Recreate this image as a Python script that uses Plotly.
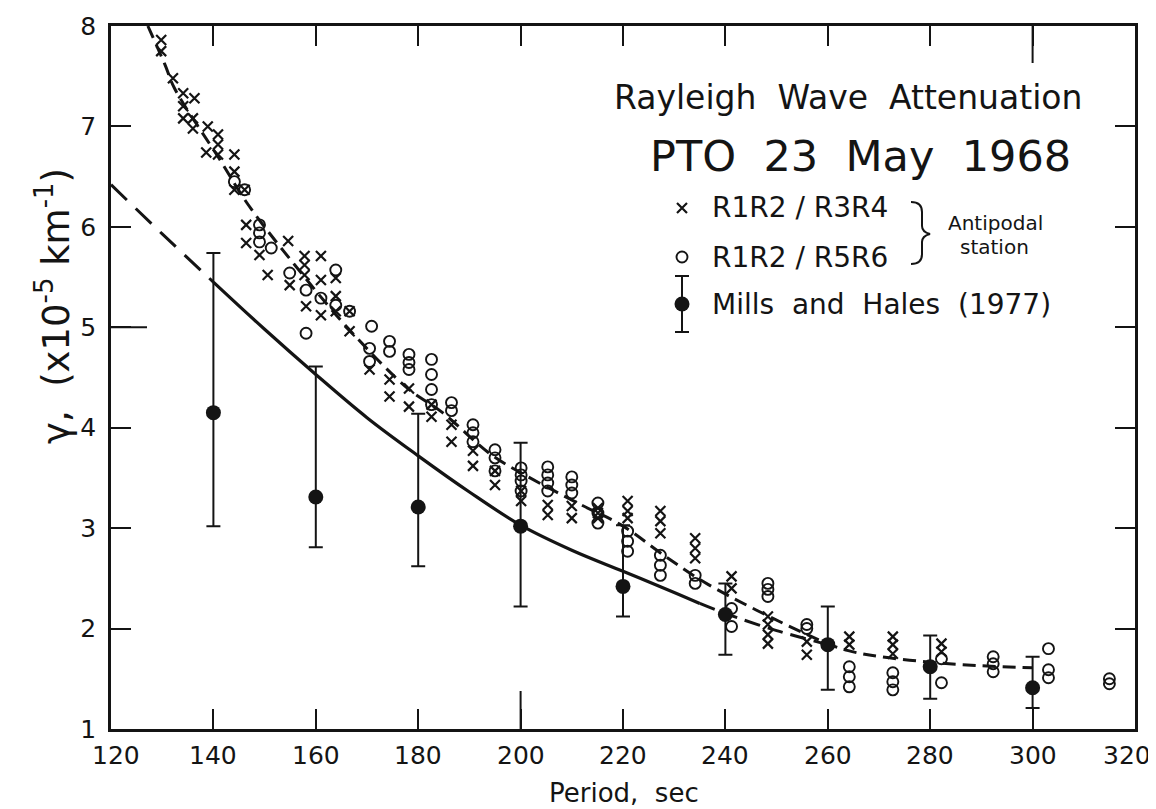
import plotly.graph_objects as go

# ---------------- data ----------------
# R1R2/R3R4 (x symbols)
x_period = [129.8, 129.8, 132.4, 132.1, 134.1, 136.3, 134.1, 134.1, 136.0, 136.0, 138.9, 140.9, 140.9,
            140.9, 138.6, 144.1, 144.1, 144.1, 146.1, 146.4, 146.4, 149.0, 150.6, 154.6, 154.9, 157.8,
            157.8, 157.8, 158.1, 161.0, 161.0, 161.0, 163.9, 163.9, 163.9, 166.6, 166.6, 170.5, 174.4,
            174.4, 178.2, 178.2, 182.6, 182.6, 186.5, 186.5, 190.7, 190.7, 195.0, 195.0, 200.1, 200.1,
            205.3, 205.3, 210.0, 210.0, 215.1, 215.1, 215.1, 220.9, 220.9, 220.9, 227.3, 227.3, 227.3,
            234.1, 234.1, 234.1, 241.2, 241.2, 248.3, 248.3, 248.3, 248.3, 255.9, 255.9, 264.2, 264.2,
            272.7, 272.7, 272.7, 282.2, 282.2]
x_gamma = [7.86, 7.75, 8.02, 7.48, 7.33, 7.28, 7.20, 7.08, 7.08, 6.98, 7.00, 6.92, 6.82,
           6.72, 6.74, 6.72, 6.55, 6.37, 6.37, 6.02, 5.84, 5.72, 5.52, 5.86, 5.42, 5.71,
           5.62, 5.52, 5.21, 5.71, 5.47, 5.12, 5.49, 5.31, 5.16, 5.16, 4.96, 4.58, 4.48,
           4.31, 4.39, 4.21, 4.23, 4.11, 4.03, 3.86, 3.77, 3.62, 3.57, 3.43, 3.37, 3.27,
           3.23, 3.13, 3.22, 3.10, 3.20, 3.15, 3.10, 3.27, 3.17, 3.10, 3.17, 3.07, 2.95,
           2.90, 2.80, 2.70, 2.52, 2.40, 2.12, 2.04, 1.94, 1.85, 1.87, 1.74, 1.92, 1.84,
           1.92, 1.84, 1.75, 1.85, 1.77]

# R1R2/R5R6 (open circles)
o_period = [144.1, 146.1, 149.0, 149.0, 149.0, 151.3, 154.9, 158.1, 158.1, 161.0, 163.9, 163.9, 166.6,
            170.9, 170.5, 170.5, 174.4, 174.4, 178.2, 178.2, 178.2, 182.6, 182.6, 182.6, 182.6, 186.5,
            186.5, 190.7, 190.7, 190.7, 195.0, 195.0, 195.0, 200.1, 200.1, 200.1, 200.1, 205.3, 205.3,
            205.3, 205.3, 210.0, 210.0, 210.0, 215.1, 215.1, 215.1, 220.9, 220.9, 220.9, 227.3, 227.3,
            227.3, 234.1, 234.1, 241.2, 241.2, 248.3, 248.3, 248.3, 255.9, 255.9, 264.2, 264.2, 264.2,
            272.7, 272.7, 272.7, 282.2, 282.2, 292.3, 292.3, 292.3, 303.1, 303.1, 303.1, 315.0, 315.0]
o_gamma = [6.45, 6.37, 6.02, 5.94, 5.85, 5.79, 5.54, 5.37, 4.94, 5.29, 5.57, 5.22, 5.16,
           5.01, 4.79, 4.66, 4.86, 4.76, 4.73, 4.65, 4.58, 4.68, 4.53, 4.38, 4.23, 4.25,
           4.17, 4.03, 3.95, 3.86, 3.78, 3.70, 3.57, 3.60, 3.53, 3.47, 3.37, 3.61, 3.53,
           3.45, 3.37, 3.51, 3.43, 3.35, 3.25, 3.15, 3.05, 2.97, 2.87, 2.77, 2.73, 2.63,
           2.53, 2.53, 2.45, 2.20, 2.02, 2.45, 2.39, 2.32, 2.04, 2.00, 1.62, 1.52, 1.42,
           1.56, 1.47, 1.39, 1.70, 1.46, 1.72, 1.65, 1.57, 1.80, 1.59, 1.51, 1.50, 1.45]

# Mills and Hales (1977) with error bars
mh_period = [140, 160, 180, 200, 220, 240, 260, 280, 300]
mh_gamma = [4.15, 3.31, 3.21, 3.02, 2.42, 2.14, 1.84, 1.62, 1.41]
mh_upper = [5.74, 4.61, 4.14, 3.85, 3.03, 2.45, 2.22, 1.93, 1.72]
mh_lower = [3.02, 2.81, 2.62, 2.22, 2.12, 1.74, 1.39, 1.30, 1.21]

# dashed fit through the antipodal data
fit_period = [127.2, 130.5, 132.4, 141.0, 146.8, 155.9, 166.3, 178.0, 184.5, 194.3, 200.8, 211.9,
              219.7, 228.8, 236.6, 256.0, 264.0, 281.0, 300.0]
fit_gamma = [8.00, 7.62, 7.38, 6.69, 6.22, 5.62, 4.99, 4.39, 4.16, 3.73, 3.53, 3.23,
             3.03, 2.70, 2.44, 1.94, 1.78, 1.66, 1.61]

# Mills and Hales curve (dashed extrapolations at both ends)
mhc_lo_period = [120, 130, 140]
mhc_lo_gamma = [6.42, 5.93, 5.45]
mhc_mid_period = [140, 150, 160, 170, 180, 190, 200, 210, 220, 230, 235]
mhc_mid_gamma = [5.45, 4.98, 4.53, 4.10, 3.72, 3.36, 3.03, 2.78, 2.57, 2.36, 2.25]
mhc_hi_period = [235, 240, 250, 260]
mhc_hi_gamma = [2.25, 2.15, 1.98, 1.84]

x_ticks = [120, 140, 160, 180, 200, 220, 240, 260, 280, 300, 320]
y_ticks = [1, 2, 3, 4, 5, 6, 7, 8]

# ---------------- figure ----------------
INK = "#141414"
FONT = "DejaVu Sans"
W, H = 1156, 809
L, R, T, B = 103, 29, 18, 88
PW, PH = W - L - R, H - T - B
X0, X1, Y0, Y1 = 120, 320, 1, 8


def dx(xpix):
    return X0 + (xpix - L) / PW * (X1 - X0)


def dy(ypix):
    return Y0 + (H - B - ypix) / PH * (Y1 - Y0)


def px(xpix):
    return (xpix - L) / PW


def py(ypix):
    return (H - B - ypix) / PH


fig = go.Figure()

fig.add_trace(go.Scatter(x=mhc_lo_period, y=mhc_lo_gamma, mode="lines", line_shape="spline",
                         line=dict(color=INK, width=3, dash="22px,12px"), hoverinfo="skip"))
fig.add_trace(go.Scatter(x=mhc_mid_period, y=mhc_mid_gamma, mode="lines", line_shape="spline",
                         line=dict(color=INK, width=3.2), hoverinfo="skip"))
fig.add_trace(go.Scatter(x=mhc_hi_period, y=mhc_hi_gamma, mode="lines", line_shape="spline",
                         line=dict(color=INK, width=3, dash="16px,8px"), hoverinfo="skip"))
fig.add_trace(go.Scatter(x=fit_period, y=fit_gamma, mode="lines", line_shape="spline",
                         line=dict(color=INK, width=3, dash="13px,7px"), hoverinfo="skip"))

XSYM = dict(symbol="x-thin", size=10, line=dict(color=INK, width=2.2))
OSYM = dict(symbol="circle-open", size=11, color=INK, line=dict(color=INK, width=1.9))

fig.add_trace(go.Scatter(x=x_period, y=x_gamma, mode="markers", cliponaxis=False, marker=XSYM))
fig.add_trace(go.Scatter(x=o_period, y=o_gamma, mode="markers", cliponaxis=False, marker=OSYM))

fig.add_trace(go.Scatter(
    x=mh_period, y=mh_gamma, mode="markers",
    marker=dict(symbol="circle", size=15, color=INK),
    error_y=dict(type="data", symmetric=False,
                 array=[u - g for u, g in zip(mh_upper, mh_gamma)],
                 arrayminus=[g - l for g, l in zip(mh_gamma, mh_lower)],
                 color=INK, thickness=2, width=7)))

# legend glyphs
fig.add_trace(go.Scatter(x=[dx(674)], y=[dy(200)], mode="markers", marker=XSYM))
fig.add_trace(go.Scatter(x=[dx(674)], y=[dy(249)], mode="markers", marker=OSYM))
fig.add_trace(go.Scatter(x=[dx(674)], y=[dy(296)], mode="markers",
                         marker=dict(symbol="circle", size=15, color=INK),
                         error_y=dict(type="data", array=[dy(268) - dy(296)],
                                      color=INK, thickness=2, width=7)))

axis_common = dict(showline=True, linecolor=INK, linewidth=2.5, mirror="ticks",
                   ticks="inside", ticklen=20, tickwidth=2, tickcolor=INK,
                   showgrid=False, zeroline=False,
                   tickfont=dict(family=FONT, size=25, color=INK))

fig.update_layout(
    width=W, height=H, margin=dict(l=L, r=R, t=T, b=B, autoexpand=False),
    paper_bgcolor="white", plot_bgcolor="white", showlegend=False,
    xaxis=dict(range=[X0, X1], tickvals=x_ticks, showticklabels=False, **axis_common),
    yaxis=dict(range=[Y0, Y1], tickvals=y_ticks, ticklabelstandoff=7, **axis_common),
)

# longer hand-drawn ticks
fig.add_shape(type="line", xref="x", yref="y", ysizemode="pixel", yanchor=Y0,
              x0=200, x1=200, y0=0, y1=38, line=dict(color=INK, width=2))
fig.add_shape(type="line", xref="x", yref="y", ysizemode="pixel", yanchor=Y1,
              x0=300, x1=300, y0=0, y1=-37, line=dict(color=INK, width=2))
fig.add_shape(type="line", xref="x", yref="y", xsizemode="pixel", xanchor=X0,
              x0=0, x1=36, y0=5, y1=5, line=dict(color=INK, width=2))

# brace joining the two antipodal entries
fig.add_shape(type="path", xref="x", yref="y",
              path=(f"M {dx(903)},{dy(194)} Q {dx(914)},{dy(194)} {dx(914)},{dy(204)} "
                    f"L {dx(914)},{dy(218)} Q {dx(914)},{dy(224)} {dx(922)},{dy(226)} "
                    f"Q {dx(914)},{dy(228)} {dx(914)},{dy(234)} L {dx(914)},{dy(246)} "
                    f"Q {dx(914)},{dy(256)} {dx(903)},{dy(256)}"),
              line=dict(color=INK, width=2))

# x tick labels (placed as in the reference, first and last nudged inward)
label_pix = {120: 108, 320: 1119}
for v in x_ticks:
    xp = label_pix.get(v, L + (v - X0) / (X1 - X0) * PW)
    fig.add_annotation(text=str(v), x=px(xp), y=py(747), xref="paper", yref="paper",
                       showarrow=False, xanchor="center", yanchor="middle",
                       font=dict(family=FONT, size=25, color=INK))

texts = [
    ("Period,  sec", 616, 785, 26, "center", 0),
    ("γ,  (x10<sup>-5</sup> km<sup>-1</sup>)", 45, 298, 37, "center", -90),
    ("Rayleigh  Wave  Attenuation", 840, 89, 33, "center", 0),
    ("PTO  23  May  1968", 852, 148, 43, "center", 0),
    ("R1R2 / R3R4", 702, 200, 28, "left", 0),
    ("R1R2 / R5R6", 702, 249, 28, "left", 0),
    ("Mills  and  Hales  (1977)", 702, 296, 28, "left", 0),
    ("Antipodal", 987, 215, 20, "center", 0),
    ("station", 986, 239, 20, "center", 0),
]
for t, xp, yp, sz, anc, ang in texts:
    fig.add_annotation(text=t, x=px(xp), y=py(yp), xref="paper", yref="paper", showarrow=False,
                       xanchor=anc, yanchor="middle", textangle=ang,
                       font=dict(family=FONT, size=sz, color=INK))

fig.write_html("out.html")
